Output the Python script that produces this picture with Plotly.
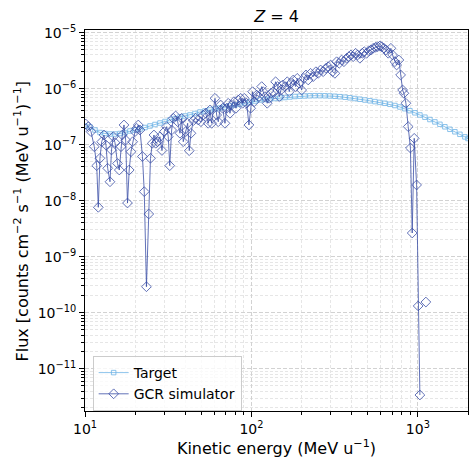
import math
import plotly.graph_objects as go

# ---------------- data ----------------
target_energy = [10.0, 10.72, 11.48, 12.31, 13.19, 14.13, 15.15, 16.23, 17.39, 18.64,
                 19.97, 21.40, 22.94, 24.57, 26.33, 28.22, 30.24, 32.40, 34.72, 37.21,
                 39.87, 42.73, 45.79, 49.06, 52.57, 56.34, 60.37, 64.69, 69.32, 74.29,
                 79.60, 85.30, 91.41, 97.95, 105.0, 112.5, 120.5, 129.2, 138.4, 148.4,
                 159.0, 170.3, 182.5, 195.6, 209.6, 224.6, 240.7, 257.9, 276.4, 296.2,
                 317.4, 340.1, 364.5, 390.6, 418.5, 448.5, 480.6, 515.0, 551.9, 591.4,
                 633.7, 679.1, 727.7, 779.8, 835.6, 895.4, 959.4, 1028, 1102, 1181,
                 1265, 1356, 1453, 1557, 1668, 1788, 1916, 2000]
target_flux = [2.16e-7, 2.07e-7, 1.83e-7, 1.65e-7, 1.585e-7, 1.55e-7, 1.55e-7, 1.585e-7, 1.65e-7, 1.757e-7,
               1.83e-7, 1.907e-7, 2.028e-7, 2.16e-7, 2.294e-7, 2.44e-7, 2.597e-7, 2.76e-7, 2.937e-7, 3.124e-7,
               3.256e-7, 3.393e-7, 3.608e-7, 3.837e-7, 4.0e-7, 4.168e-7, 4.343e-7, 4.526e-7, 4.715e-7, 4.913e-7,
               5.12e-7, 5.33e-7, 5.556e-7, 5.79e-7, 6.03e-7, 6.28e-7, 6.41e-7, 6.55e-7, 6.68e-7, 6.82e-7,
               6.96e-7, 7.11e-7, 7.26e-7, 7.35e-7, 7.41e-7, 7.47e-7, 7.50e-7, 7.50e-7, 7.47e-7, 7.41e-7,
               7.32e-7, 7.20e-7, 7.05e-7, 6.88e-7, 6.68e-7, 6.49e-7, 6.28e-7, 6.08e-7, 5.885e-7, 5.695e-7,
               5.488e-7, 5.266e-7, 5.01e-7, 4.715e-7, 4.395e-7, 4.047e-7, 3.712e-7, 3.393e-7, 3.098e-7, 2.818e-7,
               2.553e-7, 2.313e-7, 2.087e-7, 1.884e-7, 1.70e-7, 1.533e-7, 1.378e-7, 1.29e-7]

gcr_energy = [10.10, 10.47, 10.87, 11.37, 11.76, 12.02, 12.30, 12.60, 13.00, 13.37,
              13.69, 14.13, 14.43, 14.79, 15.14, 15.68, 16.07, 16.45, 16.75, 17.15,
              17.55, 18.00, 18.43, 18.89, 19.34, 19.97, 20.44, 20.90, 21.40, 22.14,
              22.70, 23.40, 24.16, 24.74, 25.37, 25.96, 26.58, 27.33, 28.21, 29.00,
              29.95, 30.95, 31.64, 32.30, 33.16, 33.90, 35.04, 36.04, 37.21, 38.08,
              38.93, 40.24, 41.38, 42.30, 43.31, 44.72, 46.23, 47.91, 49.74, 51.35,
              53.08, 55.02, 56.34, 57.68, 60.37, 61.80, 63.18, 65.31, 67.14, 69.32,
              70.99, 72.57, 74.29, 76.05, 78.51, 80.71, 83.32, 86.13, 88.54, 90.53,
              93.59, 96.61, 98.9, 101.7, 103.9, 107.5, 110.9, 115.2, 117.7, 120.5,
              124.4, 127.9, 130.9, 135.2, 139.7, 143.7, 146.9, 150.4, 153.9, 158.9,
              164.1, 168.7, 172.7, 178.2, 184.3, 188.4, 193.7, 200.3, 206.7, 212.5,
              219.3, 226.7, 235.0, 244.0, 251.9, 260.4, 269.9, 280.2, 289.2, 299.0,
              307.4, 317.3, 324.9, 336.8, 348.1, 359.4, 373.1, 385.1, 395.9, 408.7,
              422.5, 434.3, 448.5, 463.0, 476.0, 492.0, 507.9, 522.1, 539.0, 557.2,
              572.9, 591.4, 605.5, 625.0, 642.5, 663.2, 688.4, 704.7, 727.6, 745.0,
              769.0, 787.3, 809.4, 824.1, 847.2, 874.5, 901.6, 924.4, 950.3, 982.3,
              1004, 1028, None, 1117]
gcr_flux = [2.34e-7, 2.10e-7, 1.71e-7, 9.21e-8, 4.22e-8, 7.62e-9, 5.72e-8, 1.13e-7, 1.49e-7, 9.88e-8,
            3.79e-8, 2.18e-8, 8.04e-8, 1.39e-7, 1.09e-7, 4.62e-8, 3.53e-8, 9.21e-8, 1.49e-7, 2.25e-7,
            1.21e-7, 9.10e-9, 3.53e-8, 7.50e-8, 1.13e-7, 1.71e-7, 1.96e-7, 2.25e-7, 1.83e-7, 6.16e-8,
            1.45e-8, 2.91e-10, 5.79e-9, 5.72e-8, 1.06e-7, 1.49e-7, 1.06e-7, 1.13e-7, 1.39e-7, 7.88e-8,
            1.71e-7, 2.10e-7, 1.39e-7, 4.22e-8, 1.83e-7, 2.96e-7, 3.26e-7, 2.57e-7, 1.60e-7, 2.96e-7,
            1.13e-7, 1.71e-7, 2.41e-7, 7.81e-8, 1.60e-7, 2.68e-7, 2.96e-7, 2.76e-7, 2.57e-7, 3.39e-7,
            3.64e-7, 2.41e-7, 4.17e-7, 2.41e-7, 6.74e-7, 3.39e-7, 2.57e-7, 5.12e-7, 4.47e-7, 2.41e-7,
            4.47e-7, 5.49e-7, 3.64e-7, 5.12e-7, 5.86e-7, 4.47e-7, 6.28e-7, 6.74e-7, 5.49e-7, 6.74e-7,
            5.49e-7, 2.25e-7, 4.47e-7, 8.84e-7, 5.86e-7, 7.72e-7, 7.20e-7, 1.09e-6, 8.84e-7, 7.20e-7,
            5.49e-7, 6.74e-7, 8.28e-7, 8.84e-7, 1.33e-6, 1.09e-6, 7.20e-7, 9.48e-7, 1.16e-6, 1.09e-6,
            1.33e-6, 8.84e-7, 1.25e-6, 1.43e-6, 1.09e-6, 1.53e-6, 1.25e-6, 9.48e-7, 1.53e-6, 1.76e-6,
            1.43e-6, 1.88e-6, 1.64e-6, 2.01e-6, 1.88e-6, 2.16e-6, 2.01e-6, 2.31e-6, 2.47e-6, 2.65e-6,
            2.01e-6, 1.88e-6, 3.03e-6, 2.84e-6, 3.25e-6, 3.03e-6, 3.49e-6, 3.73e-6, 4.00e-6, 3.73e-6,
            4.29e-6, 4.00e-6, 3.49e-6, 4.29e-6, 4.58e-6, 4.29e-6, 4.77e-6, 4.91e-6, 5.27e-6, 5.49e-6,
            5.62e-6, 5.8e-6, 5.62e-6, 5.27e-6, 4.91e-6, 4.29e-6, 5.27e-6, 4.00e-6, 3.03e-6, 2.65e-6,
            3.25e-6, 1.76e-6, 9.48e-7, 8.28e-7, 5.49e-7, 2.10e-7, 8.73e-8, 2.65e-9, 1.30e-7, 1.91e-8,
            1.32e-10, 3.39e-12, None, 1.55e-10]

x_ticks = [10, 100, 1000]
x_tick_labels = ["10<sup>1</sup>", "10<sup>2</sup>", "10<sup>3</sup>"]
y_ticks = [1e-11, 1e-10, 1e-9, 1e-8, 1e-7, 1e-6, 1e-5]
y_tick_labels = ["10<sup>−11</sup>", "10<sup>−10</sup>", "10<sup>−9</sup>", "10<sup>−8</sup>",
                 "10<sup>−7</sup>", "10<sup>−6</sup>", "10<sup>−5</sup>"]

x_range = [10, 2000]
y_range = [10 ** -11.755, 10 ** -4.952]

target_color = "#6fb4e6"
gcr_color = "#3a4ea6"
font_family = "DejaVu Sans"

# minor tick positions (2..9 times each decade)
x_minor = [m * d for d in (10, 100, 1000) for m in range(2, 10) if m * d <= 2000]
y_minor = [m * 10.0 ** e for e in range(-12, -4) for m in range(2, 10)]

# ---------------- figure ----------------
fig = go.Figure()
fig.add_trace(go.Scatter(
    x=target_energy, y=target_flux, name="Target", mode="lines+markers",
    line=dict(color=target_color, width=0.8),
    marker=dict(symbol="square-open", size=4.5, color=target_color,
                line=dict(color=target_color, width=0.8)),
))
fig.add_trace(go.Scatter(
    x=gcr_energy, y=gcr_flux, name="GCR simulator", mode="lines+markers",
    connectgaps=False,
    line=dict(color=gcr_color, width=0.8),
    marker=dict(symbol="diamond-open", size=7.5, color=gcr_color,
                line=dict(color=gcr_color, width=0.8)),
))

axis_common = dict(
    type="log", showline=True, linecolor="black", linewidth=1, mirror=True,
    ticks="outside", ticklen=5, tickwidth=1, tickcolor="black",
    showgrid=True, gridcolor="#d2d2d2", griddash="4px,2px", gridwidth=0.8,
    zeroline=False, tickmode="array",
    tickfont=dict(family=font_family, size=14, color="black"),
)
minor_common = dict(ticks="outside", ticklen=3, tickwidth=0.8, tickcolor="black",
                    showgrid=True, gridcolor="#e6e6e6", griddash="3px,2px", gridwidth=0.6)

fig.update_xaxes(**axis_common,
                 tickvals=x_ticks, ticktext=x_tick_labels,
                 minor=dict(**minor_common, tickmode="array", tickvals=x_minor),
                 range=[math.log10(x_range[0]), math.log10(x_range[1])],
                 title=dict(text="Kinetic energy (MeV u<sup>−1</sup>)",
                            font=dict(family=font_family, size=16, color="black"),
                            standoff=6))
fig.update_yaxes(**axis_common,
                 tickvals=y_ticks, ticktext=y_tick_labels,
                 minor=dict(**minor_common, tickmode="array", tickvals=y_minor),
                 range=[math.log10(y_range[0]), math.log10(y_range[1])])

fig.add_annotation(
    text="Flux [counts cm<sup>−2</sup> s<sup>−1</sup> (MeV u<sup>−1</sup>)<sup>−1</sup>]",
    xref="paper", yref="paper", x=-0.1645, y=0.5, xanchor="center", yanchor="middle",
    textangle=-90, showarrow=False,
    font=dict(family=font_family, size=16, color="black"),
)

fig.update_layout(
    width=473, height=459,
    margin=dict(l=85, r=5, t=30, b=48),
    paper_bgcolor="white", plot_bgcolor="white",
    font=dict(family=font_family, color="black"),
    title=dict(text="<i>Z</i> = 4", x=0.5, xref="paper", xanchor="center",
               y=1, yref="paper", yanchor="bottom", pad=dict(b=8),
               font=dict(family=font_family, size=16, color="black")),
    legend=dict(x=0.02, y=0.0, xanchor="left", yanchor="bottom",
                bgcolor="rgba(255,255,255,0.8)", bordercolor="#cccccc", borderwidth=1,
                font=dict(family=font_family, size=14, color="black"),
                itemwidth=30),
    showlegend=True,
)

fig.write_html("out.html")
